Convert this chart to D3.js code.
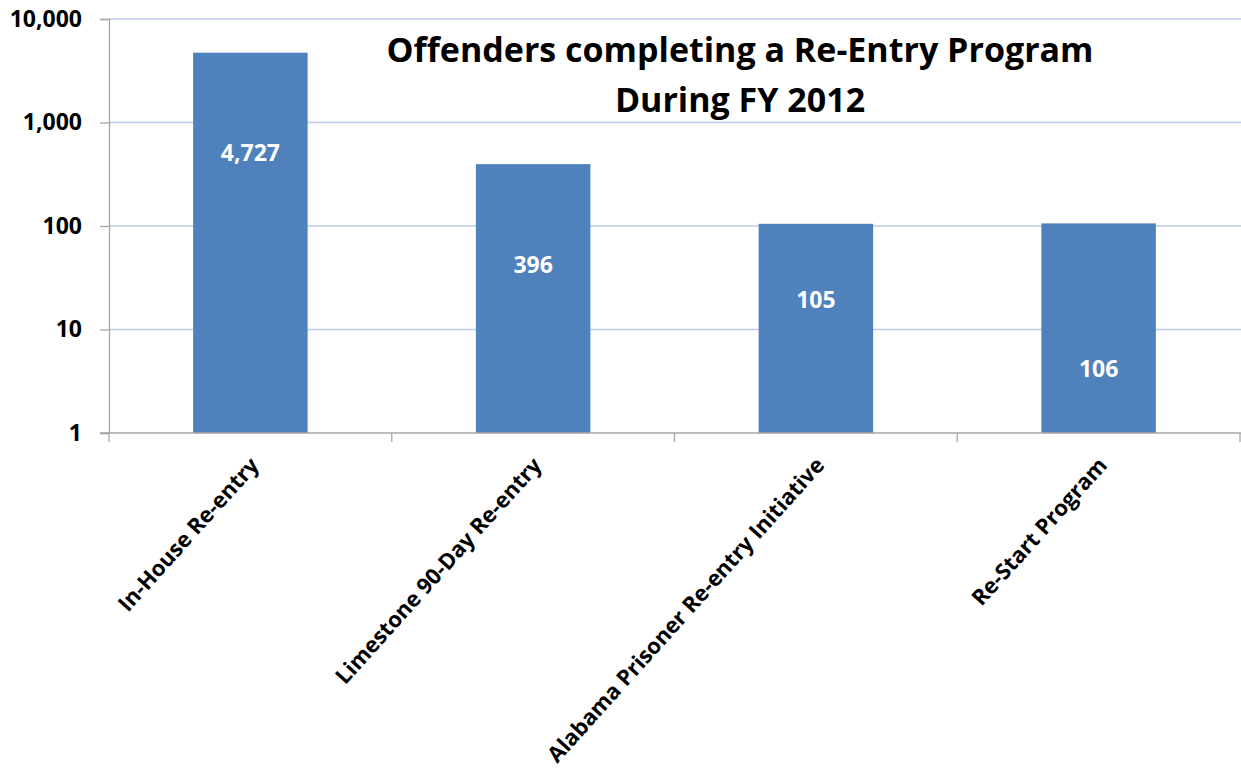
<!DOCTYPE html>
<html>
<head>
<meta charset="utf-8">
<script src="https://cdn.jsdelivr.net/npm/d3@7"></script>
<style>
  html, body { margin: 0; padding: 0; background: #fff; }
  svg { display: block; font-family: "Open Sans", Lato, sans-serif; }
</style>
</head>
<body>
<svg id="chart" width="1241" height="776"></svg>
<script>
// Programs and number of offenders completing each one in FY 2012
const programs = [
  "In-House Re-entry",
  "Limestone 90-Day Re-entry",
  "Alabama Prisoner Re-entry Initiative",
  "Re-Start Program"
];
const completions = [4727, 396, 105, 106];

// Log axis ticks
const yTicks = [1, 10, 100, 1000, 10000];

// Where each value label sits (in axis units, vertical centre of the text)
const labelAnchors = [504, 41.7, 19.1, 4.12];

const titleLines = ["Offenders completing a Re-Entry Program", "During FY 2012"];

const svg = d3.select("#chart");
const plot = { left: 109, top: 19, right: 1240, bottom: 433 };

const x = d3.scaleBand()
  .domain(programs)
  .range([plot.left, plot.right])
  .paddingInner(0.595)
  .paddingOuter(0.2975);

const band = d3.scaleBand().domain(programs).range([plot.left, plot.right]);

const y = d3.scaleLog()
  .domain([1, 10000])
  .range([plot.bottom, plot.top]);

const fmt = d3.format(",");

// Horizontal gridlines
svg.append("g")
  .selectAll("line")
  .data(yTicks.filter(d => d > 1))
  .join("line")
  .attr("x1", plot.left)
  .attr("x2", plot.right + 1)
  .attr("y1", d => y(d))
  .attr("y2", d => y(d))
  .attr("stroke", "#bccbe6")
  .attr("stroke-width", 1.5);

// Bars
svg.append("g")
  .selectAll("rect")
  .data(programs)
  .join("rect")
  .attr("x", d => x(d))
  .attr("width", x.bandwidth())
  .attr("y", (d, i) => y(completions[i]))
  .attr("height", (d, i) => y(1) - y(completions[i]))
  .attr("fill", "#4f81bd");

// Y axis
const yAxis = svg.append("g")
  .attr("transform", `translate(${plot.left},0)`)
  .call(d3.axisLeft(y).tickValues(yTicks).tickFormat(fmt).tickSize(9).tickPadding(18));
yAxis.select(".domain").attr("stroke", "#a6a6a6").attr("stroke-width", 1.3);
yAxis.selectAll(".tick line").attr("stroke", "#a6a6a6").attr("stroke-width", 1.3);
yAxis.selectAll(".tick text")
  .attr("fill", "#000")
  .style("font-family", "'Open Sans', sans-serif")
  .style("font-weight", "bold")
  .style("font-size", "23px");

// X axis with ticks on category boundaries
const xAxisG = svg.append("g").attr("transform", `translate(0,${plot.bottom})`);
xAxisG.append("line")
  .attr("x1", plot.left - 9).attr("x2", plot.right + 1)
  .attr("stroke", "#a6a6a6").attr("stroke-width", 1.3);
const boundaries = programs.map(p => band(p)).concat([plot.right]);
xAxisG.selectAll("line.tick")
  .data(boundaries)
  .join("line")
  .attr("class", "tick")
  .attr("x1", d => d).attr("x2", d => d)
  .attr("y1", 0).attr("y2", 9)
  .attr("stroke", "#a6a6a6").attr("stroke-width", 1.3);

// Rotated category labels
xAxisG.selectAll("text.cat")
  .data(programs)
  .join("text")
  .attr("class", "cat")
  .attr("text-anchor", "end")
  .attr("transform", d => `translate(${x(d) + x.bandwidth() / 2 + 4},${28}) rotate(-48)`)
  .attr("dy", "0.35em")
  .style("font-weight", "bold")
  .style("font-size", "22px")
  .attr("fill", "#000")
  .text(d => d);

// Value labels inside bars
svg.append("g")
  .selectAll("text")
  .data(programs)
  .join("text")
  .attr("x", d => x(d) + x.bandwidth() / 2)
  .attr("y", (d, i) => y(labelAnchors[i]))
  .attr("dy", "0.35em")
  .attr("text-anchor", "middle")
  .attr("fill", "#fff")
  .style("font-weight", "bold")
  .style("font-size", "23px")
  .text((d, i) => fmt(completions[i]));

// Title
svg.append("text")
  .attr("x", 740)
  .attr("y", 62)
  .attr("text-anchor", "middle")
  .style("font-weight", "bold")
  .style("font-size", "34px")
  .attr("fill", "#000")
  .selectAll("tspan")
  .data(titleLines)
  .join("tspan")
  .attr("x", 740)
  .attr("dy", (d, i) => i === 0 ? 0 : 50)
  .text(d => d);
</script>
</body>
</html>
